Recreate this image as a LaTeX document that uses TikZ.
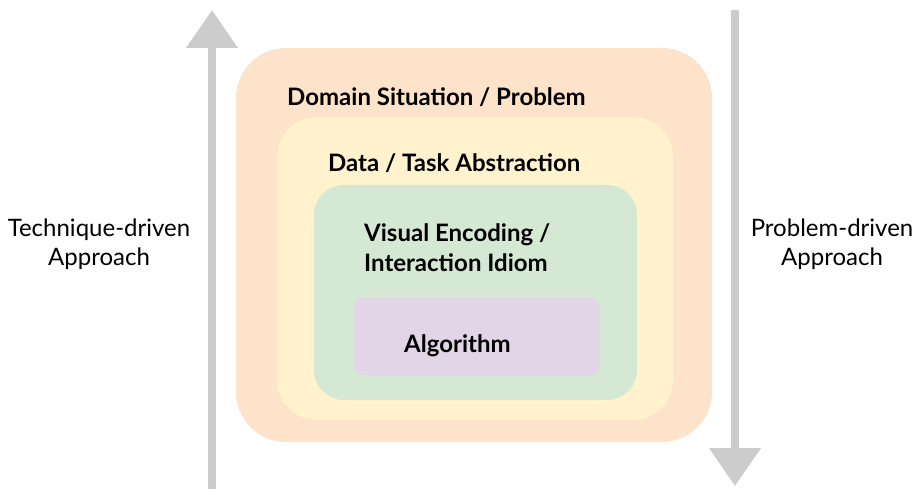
\documentclass[tikz,border=0pt]{standalone}
\usepackage{fontspec}
\setmainfont{Lato}
\usetikzlibrary{positioning, arrows.meta}
\usepackage{xcolor}
\definecolor{domainfill}{HTML}{FDE3CA}
\definecolor{datafill}{HTML}{FFF2CC}
\definecolor{visfill}{HTML}{D5E8D4}
\definecolor{algofill}{HTML}{E1D5E7}
\definecolor{arrowgray}{HTML}{CCCCCC}

\begin{document}
\begin{tikzpicture}[
        x=1pt, y=-1pt,
        layer/.style={rectangle, inner sep=0pt},
        title/.style={anchor=west, font=\fontsize{24}{30}\selectfont\bfseries, align=left, inner sep=0pt},
        side/.style={font=\fontsize{24}{29}\selectfont, align=center, inner sep=0pt},
        flow/.style={-{Triangle[width=50pt, length=38pt]}, line width=8pt, draw=arrowgray}
    ]
        \useasboundingbox (0,0) rectangle (916,489);

        % Nested layers
        \node[layer, fill=domainfill, rounded corners=50pt, minimum width=476pt, minimum height=394pt] (domain) at (474,245) {};
        \node[layer, fill=datafill, rounded corners=40pt, minimum width=396pt, minimum height=303pt] (data) at (475,268.5) {};
        \node[layer, fill=visfill, rounded corners=30pt, minimum width=323pt, minimum height=215pt] (vis) at (475.5,292.5) {};
        \node[layer, fill=algofill, rounded corners=10pt, minimum width=247pt, minimum height=77pt] (algo) at (476.5,336.5) {};

        % Layer titles
        \node[title] (domaintxt) at (287,97) {Domain Situation / Problem};
        \node[title] (datatxt) at (328,163) {Data / Task Abstraction};
        \node[title] (vistxt) at (364,248) {Visual Encoding /\\Interaction Idiom};
        \node[title] (algotxt) at (404,346) {Algorithm};

        % Side labels
        \node[side] (technique) at (99,244.5) {Technique-driven\\Approach};
        \node[side] (problem) at (832,244.5) {Problem-driven\\Approach};

        % Arrows
        \coordinate (upbottom) at (212,489);
        \coordinate (uptop) at (212,10);
        \coordinate (downtop) at (735,10);
        \coordinate (downbottom) at (735,486);
        \draw[flow] (upbottom) -- (uptop);
        \draw[flow] (downtop) -- (downbottom);
    \end{tikzpicture}
\end{document}
